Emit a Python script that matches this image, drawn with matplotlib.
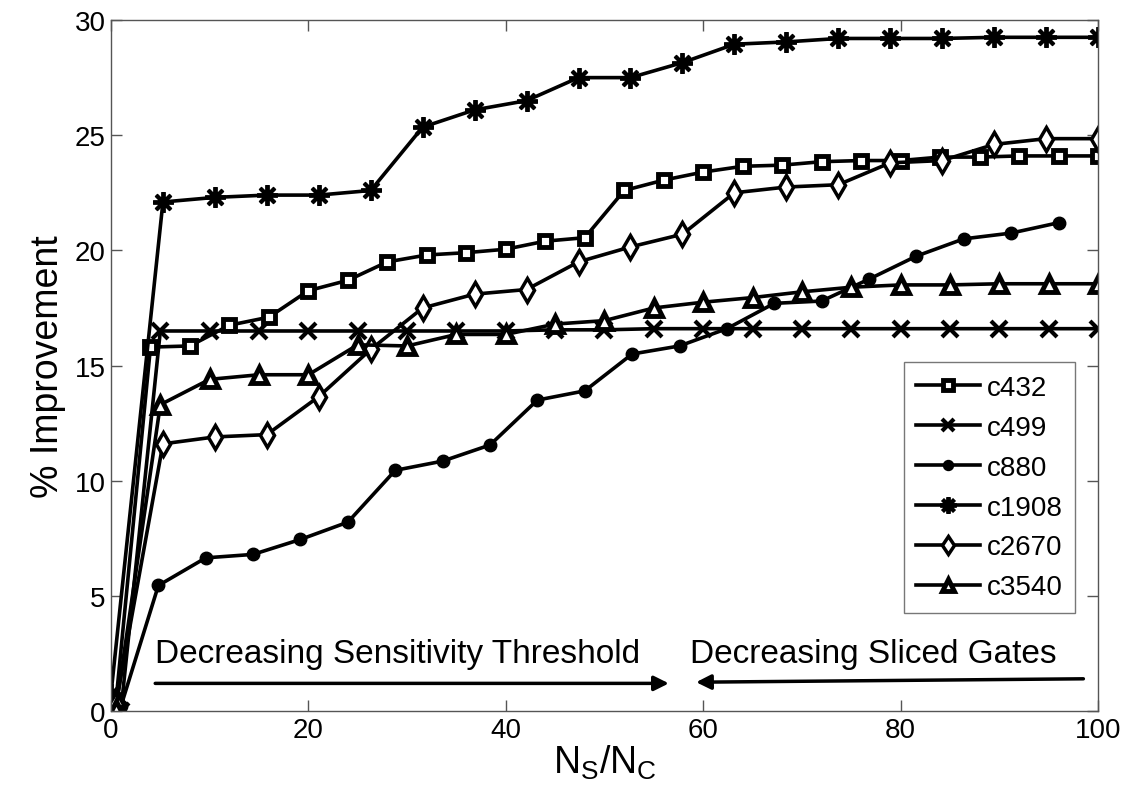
import numpy as np
import matplotlib
matplotlib.use('Agg')
import matplotlib.pyplot as plt

plt.rcParams['font.family'] = ['Liberation Sans', 'DejaVu Sans']
plt.rcParams['mathtext.fontset'] = 'custom'
plt.rcParams['mathtext.rm'] = 'Liberation Sans'
plt.rcParams['mathtext.it'] = 'Liberation Sans'

# data: (first point near origin, then the sweep)
x432 = [0.5] + [4 * k for k in range(1, 26)]
y432 = [0.4, 15.8, 15.85, 16.75, 17.1, 18.25, 18.7, 19.5, 19.8, 19.9, 20.05, 20.4, 20.55,
        22.6, 23.05, 23.4, 23.65, 23.7, 23.85, 23.9, 23.9, 24.05, 24.05, 24.1, 24.1, 24.1]

x499 = [1] + [5 * k for k in range(1, 21)]
y499 = [0.0, 16.5, 16.5, 16.5, 16.5, 16.5, 16.5, 16.5, 16.5, 16.55, 16.55,
        16.6, 16.6, 16.6, 16.6, 16.6, 16.6, 16.6, 16.6, 16.6, 16.6]

x880 = [1] + [4.8 * k for k in range(1, 21)]
y880 = [0.2, 5.45, 6.65, 6.8, 7.45, 8.2, 10.45, 10.85, 11.55, 13.5, 13.9, 15.5, 15.85,
        16.6, 17.7, 17.8, 18.75, 19.75, 20.5, 20.75, 21.2]

x1908 = [0] + [100 / 19 * k for k in range(1, 20)]
y1908 = [0.75, 22.1, 22.3, 22.4, 22.4, 22.6, 25.35, 26.1, 26.5, 27.5, 27.5, 28.15,
         28.95, 29.05, 29.2, 29.2, 29.2, 29.25, 29.25, 29.25]

x2670 = [0.5] + [100 / 19 * k for k in range(1, 20)]
y2670 = [0.3, 11.6, 11.9, 12.0, 13.65, 15.7, 17.5, 18.1, 18.3, 19.5, 20.15, 20.7,
         22.5, 22.75, 22.85, 23.8, 23.9, 24.6, 24.85, 24.85]

x3540 = [0.5] + [5 * k for k in range(1, 21)]
y3540 = [0.1, 13.3, 14.4, 14.6, 14.6, 15.9, 15.85, 16.35, 16.35, 16.8, 16.95, 17.5,
         17.75, 17.95, 18.2, 18.4, 18.5, 18.5, 18.55, 18.55, 18.55]

fig = plt.figure(figsize=(11.28, 8.03), dpi=100)
ax = fig.add_axes([0.0984, 0.1133, 0.875, 0.8605])

lw = 2.6
ax.plot(x432, y432, '-', color='k', lw=lw, marker='s', ms=9, mfc='white', mew=3.5, label='c432')
ax.plot(x499, y499, '-', color='k', lw=lw, marker='x', ms=11, mew=3, label='c499')
ax.plot(x880, y880, '-', color='k', lw=lw, marker='o', ms=9, mfc='k', label='c880')
ax.plot(x1908, y1908, '-', color='k', lw=lw, marker=(8, 2, 0), ms=15, mew=2.8, label='c1908')
ax.plot(x2670, y2670, '-', color='k', lw=lw, marker='d', ms=12, mfc='white', mew=2.5, label='c2670')
ax.plot(x3540, y3540, '-', color='k', lw=lw, marker='^', ms=11, mfc='white', mew=3.5, label='c3540')

ax.annotate('', xy=(56.8, 1.2), xytext=(4.2, 1.2),
            arrowprops=dict(arrowstyle='-|>', color='k', lw=2.5, mutation_scale=22))
ax.annotate('', xy=(59.0, 1.25), xytext=(98.8, 1.4),
            arrowprops=dict(arrowstyle='-|>', color='k', lw=2.5, mutation_scale=22))
ax.text(4.5, 2.5, 'Decreasing Sensitivity Threshold', fontsize=24, va='center', ha='left')
ax.text(58.7, 2.5, 'Decreasing Sliced Gates', fontsize=24, va='center', ha='left')

ax.set_xlim(0, 100)
ax.set_ylim(0, 30)
ax.set_xticks([0, 20, 40, 60, 80, 100])
ax.set_yticks([0, 5, 10, 15, 20, 25, 30])
ax.tick_params(direction='in', length=8, width=1, color='#555555', labelsize=20,
               top=True, right=True, pad=4)
for s in ax.spines.values():
    s.set_color('#555555')
    s.set_linewidth(1)

ax.set_xlabel(r'$\mathregular{N_S/N_C}$', fontsize=27, labelpad=0)
ax.set_ylabel('% Improvement', fontsize=27, labelpad=6)

leg = ax.legend(loc='lower right', bbox_to_anchor=(0.991, 0.122), fontsize=20,
                frameon=True, fancybox=False, edgecolor='#555555', handlelength=2.3,
                labelspacing=0.5, borderpad=0.45, handletextpad=0.25, markerscale=0.8)
leg.get_frame().set_linewidth(1)

plt.savefig('out.png', dpi=100)
